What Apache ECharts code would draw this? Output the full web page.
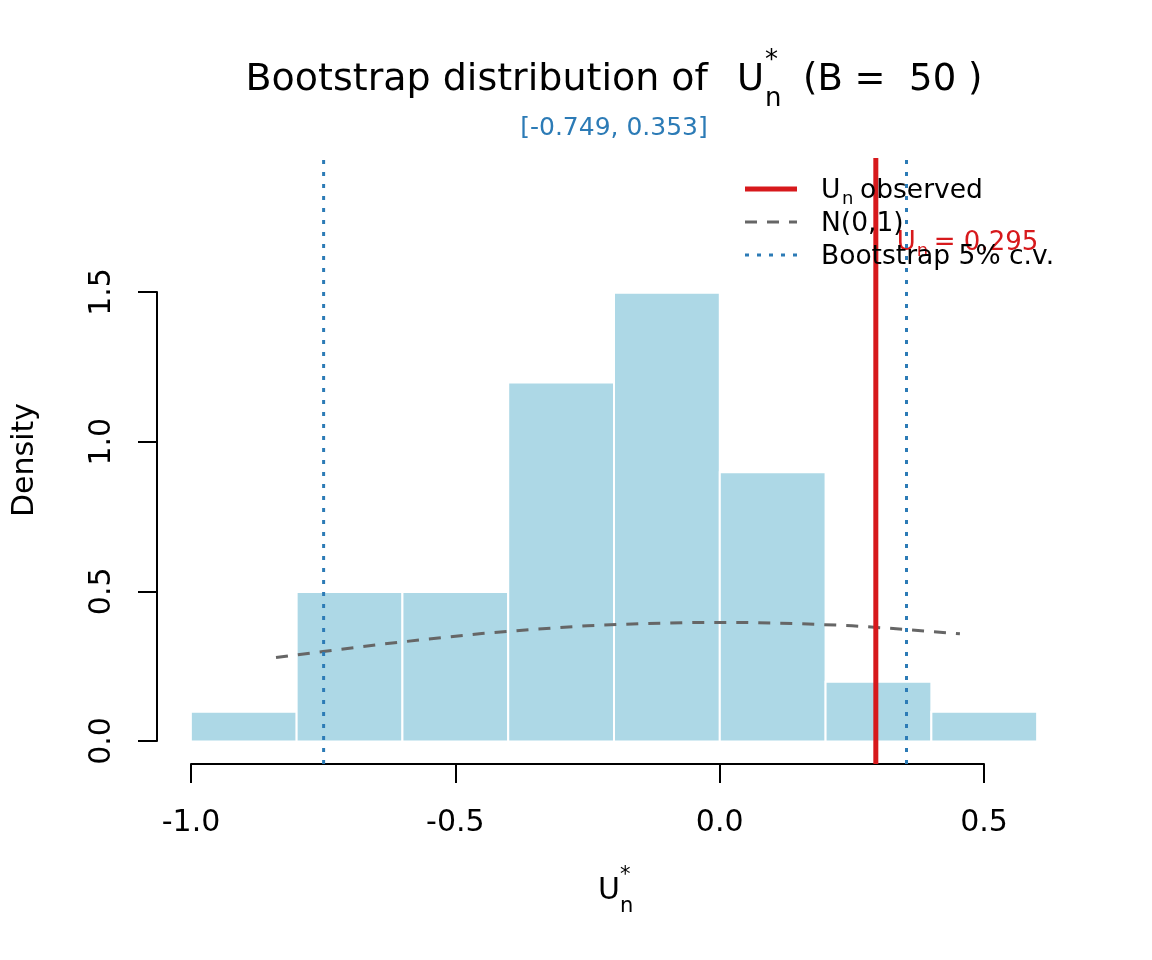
<!DOCTYPE html>
<html lang="en">
<head>
<meta charset="UTF-8">
<title>Bootstrap distribution</title>
<script src="https://cdn.jsdelivr.net/npm/echarts@6.0.0/dist/echarts.min.js"></script>
<style>
  html, body { margin: 0; padding: 0; background: #fff; }
  #chart { width: 1152px; height: 960px; }
</style>
</head>
<body>
<div id="chart"></div>
<script>
// histogram of the bootstrap statistic (density scale)
const breaks = [-1.0, -0.8, -0.6, -0.4, -0.2, 0.0, 0.2, 0.4, 0.6];
const density = [0.1, 0.5, 0.5, 1.2, 1.5, 0.9, 0.2, 0.1];

// N(0,1) reference curve
const normX = [-0.839, -0.75, -0.65, -0.55, -0.45, -0.35, -0.25, -0.15, -0.05, 0.05, 0.15, 0.25, 0.35, 0.454];
const normY = [0.281, 0.301, 0.323, 0.343, 0.361, 0.375, 0.387, 0.394, 0.398, 0.398, 0.394, 0.387, 0.375, 0.360];

// observed value and bootstrap critical values
const observed = 0.295;
const critVals = [-0.749, 0.353];
const labelY = 1.674;

const FONT = '"DejaVu Sans", sans-serif';
const RED = '#d7191c', BLUE = '#2c7bb6', GREY = '#666666';

// plot region limits (R adds 4% on each side)
const xLim = [-1.064, 0.664];
const yLim = [-0.075, 1.95];

function txt(x, y, s, size, color, align, rot) {
  return {
    type: 'text', x: x, y: y, rotation: rot || 0, z: 10,
    style: { text: s, fontSize: size, fontFamily: FONT, fill: color || '#000',
             align: align || 'left', verticalAlign: 'middle' }
  };
}
function seg(x1, x2, y, color, w, dash) {
  return {
    type: 'line', z: 1,
    shape: { x1: x1, y1: y, x2: x2, y2: y },
    style: { stroke: color, lineWidth: w, lineDash: dash || null }
  };
}

const bins = density.map((d, i) => [breaks[i], breaks[i + 1], d]);
const vline = x => [[x, yLim[0]], [x, yLim[1]]];

const chart = echarts.init(document.getElementById('chart'));
chart.setOption({
  backgroundColor: '#fff',
  animation: false,
  grid: [
    { left: 157, right: 81, top: 158, bottom: 196 },   // data region
    { left: 191, right: 168, top: 158, bottom: 196 },  // x axis -1 .. 0.5
    { left: 157, right: 81, top: 292, bottom: 219 }    // y axis 0 .. 1.5
  ],
  xAxis: [
    { gridIndex: 0, type: 'value', min: xLim[0], max: xLim[1], show: false },
    { gridIndex: 1, type: 'value', min: -1, max: 0.5, interval: 0.5,
      axisLine: { lineStyle: { color: '#000', width: 2 } },
      axisTick: { length: 19, lineStyle: { color: '#000', width: 2 } },
      axisLabel: { fontSize: 30, fontFamily: FONT, color: '#000', margin: 44,
                   formatter: v => v.toFixed(1) },
      splitLine: { show: false } },
    { gridIndex: 2, type: 'value', min: 0, max: 1, show: false }
  ],
  yAxis: [
    { gridIndex: 0, type: 'value', min: yLim[0], max: yLim[1], show: false },
    { gridIndex: 1, type: 'value', min: 0, max: 1, show: false },
    { gridIndex: 2, type: 'value', min: 0, max: 1.5, interval: 0.5,
      axisLine: { show: true, lineStyle: { color: '#000', width: 2 } },
      axisTick: { show: true, length: 19, lineStyle: { color: '#000', width: 2 } },
      axisLabel: { fontSize: 30, fontFamily: FONT, color: '#000', margin: 40, rotate: 90,
                   formatter: v => v.toFixed(1) },
      splitLine: { show: false } }
  ],
  series: [
    {
      type: 'custom', xAxisIndex: 0, yAxisIndex: 0, z: 2,
      data: bins,
      renderItem: function (params, api) {
        const p0 = api.coord([api.value(0), 0]);
        const p1 = api.coord([api.value(1), api.value(2)]);
        return {
          type: 'rect',
          shape: { x: p0[0], y: p1[1], width: p1[0] - p0[0], height: p0[1] - p1[1] },
          style: { fill: '#add8e6', stroke: '#ffffff', lineWidth: 2 }
        };
      }
    },
    {
      type: 'line', xAxisIndex: 0, yAxisIndex: 0, z: 3,
      data: normX.map((x, i) => [x, normY[i]]),
      symbol: 'none',
      lineStyle: { color: GREY, width: 3, type: [12, 10] }
    },
    {
      type: 'line', xAxisIndex: 0, yAxisIndex: 0, z: 5,
      data: vline(observed), symbol: 'none',
      lineStyle: { color: RED, width: 5 }
    },
    ...critVals.map(v => ({
      type: 'line', xAxisIndex: 0, yAxisIndex: 0, z: 5,
      data: vline(v), symbol: 'none',
      lineStyle: { color: BLUE, width: 3, type: [4, 8] }
    })),
    {
      // annotation next to the observed line
      type: 'custom', xAxisIndex: 0, yAxisIndex: 0, z: 4,
      data: [[observed, labelY]],
      renderItem: function (params, api) {
        const p = api.coord([api.value(0), api.value(1)]);
        const st = (s, size) => ({ text: s, fontSize: size, fontFamily: FONT, fill: RED,
                                   align: 'left', verticalAlign: 'middle' });
        return {
          type: 'group',
          children: [
            { type: 'text', x: p[0] + 21, y: p[1] + 3, style: st('U', 26) },
            { type: 'text', x: p[0] + 41, y: p[1] + 11, style: st('n', 18) },
            { type: 'text', x: p[0] + 58, y: p[1] + 3, style: st('= 0.295', 26) }
          ]
        };
      }
    }
  ],
  graphic: [
    // title
    txt(708, 80, 'Bootstrap distribution of', 38, '#000', 'right'),
    txt(737, 80, 'U', 37),
    txt(765, 61, '*', 26),
    txt(765, 99, 'n', 26),
    txt(803, 80, '(B =  50 )', 37),
    txt(614, 128, '[-0.749, 0.353]', 25, BLUE, 'center'),
    // axis titles
    txt(25, 460, 'Density', 30, '#000', 'center', Math.PI / 2),
    txt(598, 891, 'U', 30),
    txt(620, 876, '*', 21),
    txt(620, 907, 'n', 21),
    // legend
    seg(745, 797, 189, RED, 5),
    seg(745, 797, 222, GREY, 3, [12, 10]),
    seg(745, 797, 255, BLUE, 3, [4, 8]),
    txt(821, 191, 'U', 26.5),
    txt(842, 199, 'n', 18),
    txt(860, 191, 'observed', 26.5),
    txt(821, 224, 'N(0,1)', 26.5),
    txt(821, 257, 'Bootstrap 5% c.v.', 26.5)
  ]
});
</script>
</body>
</html>
